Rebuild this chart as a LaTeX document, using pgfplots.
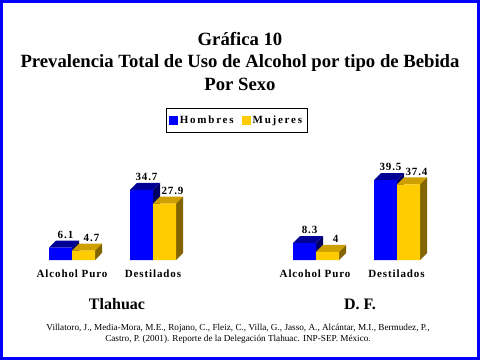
\documentclass[border=0pt]{standalone}
\usepackage{pgfplots}
\pgfplotsset{compat=1.18}
\usepackage{fontspec}
\setmainfont{Liberation Serif}
\newfontfamily\spc[LetterSpace=8]{Liberation Serif}
\newfontfamily\spcl[LetterSpace=16]{Liberation Serif}
\newcommand\valfont{\spc\bfseries\fontsize{11bp}{13bp}\selectfont}
\newcommand\catfont{\spc\bfseries\fontsize{11bp}{13bp}\selectfont}
\newcommand\legfont{\spcl\bfseries\fontsize{11bp}{13bp}\selectfont}
\definecolor{hblue}{RGB}{0,0,255}
\definecolor{htop}{RGB}{0,0,150}
\definecolor{hside}{RGB}{0,0,100}
\definecolor{myel}{RGB}{255,204,0}
\definecolor{mtop}{RGB}{205,160,0}
\definecolor{mside}{RGB}{130,100,0}
\begin{document}
\begin{tikzpicture}[x=1bp,y=1bp]
\useasboundingbox (0,0) rectangle (480,360);
\fill[white] (0,0) rectangle (480,360);
\draw[hblue, line width=3bp] (1.5,1.5) rectangle (478.5,358.5);
\node[font=\bfseries\fontsize{18.7bp}{21bp}\selectfont] at (240,321) {Gráfica 10};
\node[font=\bfseries\fontsize{18.7bp}{21bp}\selectfont] at (240,297) {Prevalencia Total de Uso de Alcohol por tipo de Bebida};
\node[font=\bfseries\fontsize{18.7bp}{21bp}\selectfont] at (240,276) {Por Sexo};
\node[font=\bfseries\fontsize{16bp}{18bp}\selectfont] at (117,56) {Tlahuac};
\node[font=\bfseries\fontsize{16bp}{18bp}\selectfont] at (360,56) {D. F.};
\node[font=\fontsize{9.2bp}{11bp}\selectfont, align=center] at (238,26.5) {Villatoro, J., Media-Mora, M.E., Rojano, C., Fleiz, C., Villa, G., Jasso, A., Alcántar, M.I., Bermudez, P.,\\ Castro, P. (2001). Reporte de la Delegación Tlahuac. INP-SEP. México.};
\begin{axis}[at={(0bp,100bp)}, anchor=south west, scale only axis,
  width=480bp, height=101bp, xmin=0, xmax=480, ymin=0, ymax=50,
  axis line style={draw=none}, major tick length=0pt, ytick=\empty,
  xtick={72,153,315,396.5},
  xticklabels={Alcohol Puro,Destilados,Alcohol Puro,Destilados},
  xticklabel style={font=\catfont, anchor=north, inner sep=0pt, yshift=-10bp},
  clip=false, /pgf/number format/assume math mode=true,
  legend columns=2,
  legend style={at={(rel axis cs:0.4927,1.386)}, anchor=center, draw=black,
    line width=0.8bp, font=\legfont, inner xsep=3bp, inner ysep=5.5bp,
    /tikz/every even column/.append style={column sep=6bp}},
  ]
% Hombres side and top faces
\addplot[fill=hside, draw=none, forget plot] coordinates {(72,0) (79,3.47) (79,9.57) (72,6.1)} -- cycle;
\addplot[fill=htop, draw=none, forget plot] coordinates {(49,6.1) (56,9.57) (79,9.57) (72,6.1)} -- cycle;
\addplot[fill=hside, draw=none, forget plot] coordinates {(153,0) (160,3.47) (160,38.17) (153,34.7)} -- cycle;
\addplot[fill=htop, draw=none, forget plot] coordinates {(130,34.7) (137,38.17) (160,38.17) (153,34.7)} -- cycle;
\addplot[fill=hside, draw=none, forget plot] coordinates {(316,0) (323,3.47) (323,11.77) (316,8.3)} -- cycle;
\addplot[fill=htop, draw=none, forget plot] coordinates {(293,8.3) (300,11.77) (323,11.77) (316,8.3)} -- cycle;
\addplot[fill=hside, draw=none, forget plot] coordinates {(397,0) (404,3.47) (404,42.97) (397,39.5)} -- cycle;
\addplot[fill=htop, draw=none, forget plot] coordinates {(374,39.5) (381,42.97) (404,42.97) (397,39.5)} -- cycle;
% Hombres front
\addplot[ybar, bar width=23bp, bar shift=0pt, fill=hblue, draw=none,
  legend image code/.code={\fill[hblue] (0bp,-4.5bp) rectangle (9bp,4.5bp);},
  nodes near coords, every node near coord/.append style={font=\valfont, inner sep=0pt, anchor=south, yshift=9bp, xshift=5bp, text=black}]
  coordinates {(60.5,6.1) (141.5,34.7) (304.5,8.3) (385.5,39.5)};
\addlegendentry{Hombres}
% Mujeres side and top faces
\addplot[fill=mside, draw=none, forget plot] coordinates {(95,0) (102,3.47) (102,8.17) (95,4.7)} -- cycle;
\addplot[fill=mtop, draw=none, forget plot] coordinates {(72,4.7) (79,8.17) (102,8.17) (95,4.7)} -- cycle;
\addplot[fill=mside, draw=none, forget plot] coordinates {(176,0) (183,3.47) (183,31.37) (176,27.9)} -- cycle;
\addplot[fill=mtop, draw=none, forget plot] coordinates {(153,27.9) (160,31.37) (183,31.37) (176,27.9)} -- cycle;
\addplot[fill=mside, draw=none, forget plot] coordinates {(339,0) (346,3.47) (346,7.47) (339,4)} -- cycle;
\addplot[fill=mtop, draw=none, forget plot] coordinates {(316,4) (323,7.47) (346,7.47) (339,4)} -- cycle;
\addplot[fill=mside, draw=none, forget plot] coordinates {(420,0) (427,3.47) (427,40.87) (420,37.4)} -- cycle;
\addplot[fill=mtop, draw=none, forget plot] coordinates {(397,37.4) (404,40.87) (427,40.87) (420,37.4)} -- cycle;
% Mujeres front
\addplot[ybar, bar width=23bp, bar shift=0pt, fill=myel, draw=none,
  legend image code/.code={\fill[myel] (0bp,-4.5bp) rectangle (9bp,4.5bp);},
  nodes near coords, every node near coord/.append style={font=\valfont, inner sep=0pt, anchor=south, yshift=9bp, xshift=8bp, text=black}]
  coordinates {(83.5,4.7) (164.5,27.9) (327.5,4) (408.5,37.4)};
\addlegendentry{Mujeres}
\end{axis}
\end{tikzpicture}
\end{document}
